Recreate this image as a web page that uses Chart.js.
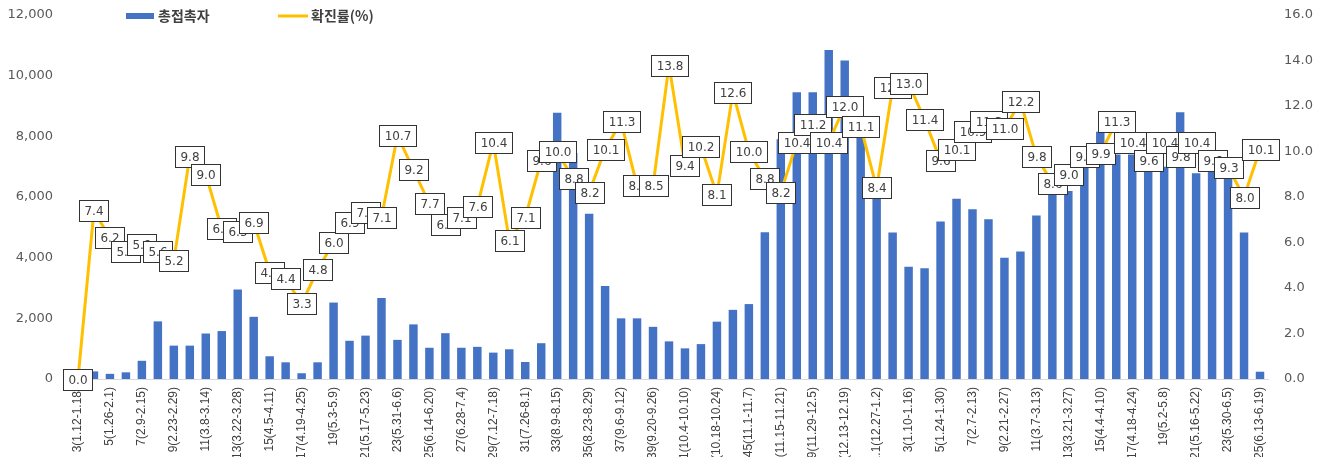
<!DOCTYPE html>
<html>
<head>
<meta charset="utf-8">
<script src="https://cdn.jsdelivr.net/npm/chart.js@4.4.1/dist/chart.umd.min.js"></script>
<style>
html,body{margin:0;padding:0;background:#fff;overflow:hidden;width:1322px;height:457px}
#wrap{position:relative;width:1322px;height:480px}
</style>
</head>
<body>
<div id="wrap"><canvas id="c" width="1322" height="480"></canvas></div>
<script>
// Categories: epidemiological week (date range)
const weekLabels = [
 "3(1.12-1.18)","4(1.19-1.25)","5(1.26-2.1)","6(2.2-2.8)","7(2.9-2.15)","8(2.16-2.22)","9(2.23-2.29)","10(3.1-3.7)",
 "11(3.8-3.14)","12(3.15-3.21)","13(3.22-3.28)","14(3.29-4.4)","15(4.5-4.11)","16(4.12-4.18)","17(4.19-4.25)","18(4.26-5.2)",
 "19(5.3-5.9)","20(5.10-5.16)","21(5.17-5.23)","22(5.24-5.30)","23(5.31-6.6)","24(6.7-6.13)","25(6.14-6.20)","26(6.21-6.27)",
 "27(6.28-7.4)","28(7.5-7.11)","29(7.12-7.18)","30(7.19-7.25)","31(7.26-8.1)","32(8.2-8.8)","33(8.9-8.15)","34(8.16-8.22)",
 "35(8.23-8.29)","36(8.30-9.5)","37(9.6-9.12)","38(9.13-9.19)","39(9.20-9.26)","40(9.27-10.3)","41(10.4-10.10)","42(10.11-10.17)",
 "43(10.18-10.24)","44(10.25-10.31)","45(11.1-11.7)","46(11.8-11.14)","47(11.15-11.21)","48(11.22-11.28)","49(11.29-12.5)","50(12.6-12.12)",
 "51(12.13-12.19)","52(12.20-12.26)","2021.1(12.27-1.2)","2(1.3-1.9)","3(1.10-1.16)","4(1.17-1.23)","5(1.24-1.30)","6(1.31-2.6)",
 "7(2.7-2.13)","8(2.14-2.20)","9(2.21-2.27)","10(2.28-3.6)","11(3.7-3.13)","12(3.14-3.20)","13(3.21-3.27)","14(3.28-4.3)",
 "15(4.4-4.10)","16(4.11-4.17)","17(4.18-4.24)","18(4.25-5.1)","19(5.2-5.8)","20(5.9-5.15)","21(5.16-5.22)","22(5.23-5.29)",
 "23(5.30-6.5)","24(6.6-6.12)","25(6.13-6.19)"
];

// 총접촉자 (left axis)
const contacts = [
 50,250,170,220,600,1900,1100,1100,1500,1580,2950,2050,750,550,190,550,
 2520,1260,1430,2670,1290,1800,1030,1510,1030,1060,870,980,560,1180,8780,7450,
 5450,3070,2000,2000,1720,1240,1010,1150,1890,2280,2470,4840,7900,9450,9450,10850,
 10500,8200,6300,4830,3700,3650,5190,5940,5600,5270,4000,4200,5390,6500,6200,7000,
 8150,7400,7400,6850,7000,8790,6780,6950,6900,4830,240
];

// 확진률(%) (right axis)
const rates = [
 0.0,7.4,6.2,5.6,5.9,5.6,5.2,9.8,9.0,6.6,6.5,6.9,4.7,4.4,3.3,4.8,
 6.0,6.9,7.3,7.1,10.7,9.2,7.7,6.8,7.1,7.6,10.4,6.1,7.1,9.6,10.0,8.8,
 8.2,10.1,11.3,8.5,8.5,13.8,9.4,10.2,8.1,12.6,10.0,8.8,8.2,10.4,11.2,10.4,
 12.0,11.1,8.4,12.8,13.0,11.4,9.6,10.1,10.9,11.3,11.0,12.2,9.8,8.6,9.0,9.8,
 9.9,11.3,10.4,9.6,10.4,9.8,10.4,9.6,9.3,8.0,10.1
];

const seriesNames = ["총접촉자", "확진률(%)"];
const BAR_COLOR = "#4472C4";
const LINE_COLOR = "#FFC000";

const boxLabels = {
  id: "boxLabels",
  afterDatasetsDraw(chart) {
    const dsIndex = chart.data.datasets.findIndex(d => d.type === "line");
    const meta = chart.getDatasetMeta(dsIndex);
    const data = chart.data.datasets[dsIndex].data;
    const ctx = chart.ctx;
    ctx.save();
    ctx.font = '12px "DejaVu Sans"';
    ctx.textAlign = "center";
    ctx.textBaseline = "middle";
    meta.data.forEach((pt, i) => {
      const txt = Number(data[i]).toFixed(1);
      const w = Math.round(ctx.measureText(txt).width + 10);
      const h = 21;
      const x = Math.round(pt.x - w / 2) + 0.5;
      const y = Math.round(pt.y - h / 2) + 0.5;
      ctx.fillStyle = "#ffffff";
      ctx.fillRect(x, y, w, h);
      ctx.strokeStyle = "#333333";
      ctx.lineWidth = 1;
      ctx.strokeRect(x, y, w, h);
      ctx.fillStyle = "#404040";
      ctx.fillText(txt, x + w / 2, y + h / 2 + 1);
    });
    ctx.restore();
  }
};

const topLegend = {
  id: "topLegend",
  afterDraw(chart) {
    const ctx = chart.ctx;
    const ds = chart.data.datasets;
    ctx.save();
    ctx.font = 'bold 14px "Noto Sans CJK KR"';
    ctx.textBaseline = "middle";
    ctx.textAlign = "left";
    // bar item
    ctx.fillStyle = ds[0].backgroundColor;
    ctx.fillRect(126, 13, 28, 6);
    ctx.fillStyle = "#404040";
    ctx.fillText(ds[0].label, 158, 16);
    // line item
    ctx.strokeStyle = ds[1].borderColor;
    ctx.lineWidth = 3;
    ctx.beginPath();
    ctx.moveTo(278, 16);
    ctx.lineTo(308, 16);
    ctx.stroke();
    ctx.fillStyle = "#404040";
    ctx.fillText(ds[1].label, 311, 16);
    ctx.restore();
  }
};

new Chart(document.getElementById("c"), {
  data: {
    labels: weekLabels,
    datasets: [
      {
        type: "bar",
        label: seriesNames[0],
        data: contacts,
        backgroundColor: BAR_COLOR,
        borderWidth: 0,
        yAxisID: "y",
        categoryPercentage: 1.0,
        barPercentage: 0.53,
        order: 2
      },
      {
        type: "line",
        label: seriesNames[1],
        data: rates,
        borderColor: LINE_COLOR,
        backgroundColor: LINE_COLOR,
        borderWidth: 3,
        pointRadius: 0,
        tension: 0,
        yAxisID: "y1",
        order: 1
      }
    ]
  },
  options: {
    responsive: false,
    animation: false,
    layout: { padding: { top: 15, left: 0, right: 0, bottom: 0 } },
    plugins: {
      legend: { display: false },
      tooltip: { enabled: false }
    },
    scales: {
      x: {
        type: "category",
        offset: true,
        grid: { display: false, drawTicks: false },
        border: { display: true, color: "#D9D9D9", width: 1 },
        ticks: {
          autoSkip: false,
          maxRotation: 90,
          minRotation: 90,
          padding: 8,
          color: "#404040",
          font: { family: '"Liberation Sans", Arial, sans-serif', size: 12 },
          callback: function (v, i) { return i % 2 === 0 ? this.getLabelForValue(v) : ""; }
        },
        afterFit(s) { s.height = 101; }
      },
      y: {
        position: "left",
        min: 0,
        max: 12000,
        grid: { display: false, drawTicks: false },
        border: { display: false },
        ticks: {
          stepSize: 2000,
          padding: 17,
          color: "#595959",
          font: { family: '"DejaVu Sans", sans-serif', size: 13 },
          callback: v => Number(v).toLocaleString("en-US")
        },
        afterFit(s) { s.width = 70; s.paddingTop = 0; s.paddingBottom = 0; }
      },
      y1: {
        position: "right",
        min: 0,
        max: 16,
        grid: { display: false, drawTicks: false },
        border: { display: false },
        ticks: {
          stepSize: 2,
          padding: 16,
          color: "#595959",
          font: { family: '"DejaVu Sans", sans-serif', size: 13 },
          callback: v => Number(v).toFixed(1)
        },
        afterFit(s) { s.width = 54; s.paddingTop = 0; s.paddingBottom = 0; }
      }
    }
  },
  plugins: [boxLabels, topLegend]
});
</script>
</body>
</html>
